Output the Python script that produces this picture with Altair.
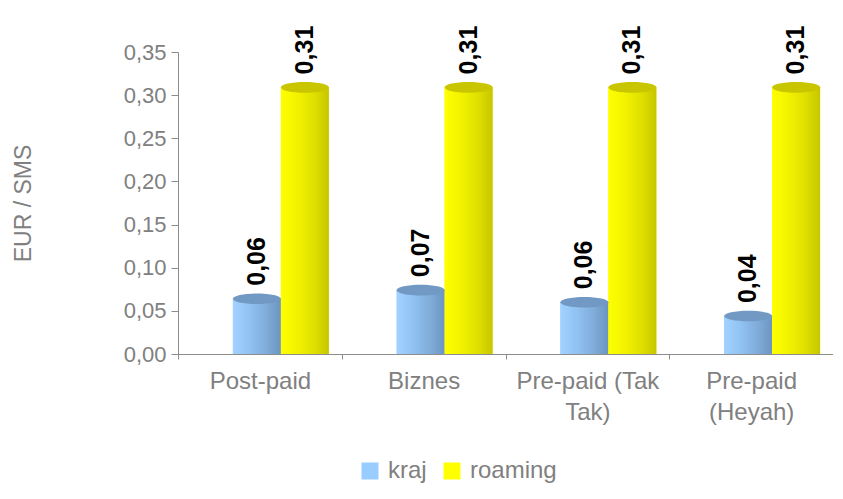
import altair as alt
import pandas as pd

categories = ["Post-paid", "Biznes", "Pre-paid (Tak Tak)", "Pre-paid (Heyah)"]
x_label_lines = [["Post-paid"], ["Biznes"], ["Pre-paid (Tak", "Tak)"], ["Pre-paid", "(Heyah)"]]
series = ["kraj", "roaming"]
kraj = [0.064, 0.074, 0.060, 0.044]
roaming = [0.309, 0.309, 0.309, 0.309]
y_ticks = [0.0, 0.05, 0.10, 0.15, 0.20, 0.25, 0.30, 0.35]

rows = []
for i, c in enumerate(categories):
    rows.append({"cat": c, "series": "kraj", "value": kraj[i]})
    rows.append({"cat": c, "series": "roaming", "value": roaming[i]})
df = pd.DataFrame(rows)

FONT = "Liberation Sans"
GRAY = "#808080"
LINE = "#8c8c8c"

# multi-line x labels
expr = "''"
for c, lines in reversed(list(zip(categories, x_label_lines))):
    arr = "[" + ",".join("'" + s + "'" for s in lines) + "]"
    expr = f"datum.value == '{c}' ? {arr} : ({expr})"

x_enc = alt.X(
    "cat:N", sort=categories,
    scale=alt.Scale(paddingInner=0, paddingOuter=0),
    axis=alt.Axis(title=None, labelAngle=0, tickBand="extent", tickSize=5,
                  labelPadding=10, labelFontSize=24, labelLineHeight=31,
                  labelExpr=expr, labelColor=GRAY, domainColor=LINE, tickColor=LINE,
                  labelFont=FONT),
)
xoff = alt.XOffset("series:N", sort=series,
                   scale=alt.Scale(paddingInner=0, paddingOuter=0.706, align=0.81))
y_enc = alt.Y(
    "value:Q",
    scale=alt.Scale(domain=[0, 0.35], nice=False),
    axis=alt.Axis(values=y_ticks, labelExpr="replace(format(datum.value, '.2f'), '.', ',')",
                  tickSize=7, labelPadding=5, labelFontSize=22, labelColor=GRAY,
                  labelFont=FONT, domainColor=LINE, tickColor=LINE, grid=False,
                  title="EUR / SMS", titleFontSize=23, titleColor=GRAY,
                  titleFontWeight="normal", titleFont=FONT, titleX=-155, titleY=151,
                  titleAngle=270, titleBaseline="middle", titleAlign="center"),
)

base = alt.Chart(df)

legend_bars = base.mark_bar().encode(
    x=x_enc, xOffset=xoff, y=y_enc,
    color=alt.Color("series:N", sort=series,
                    scale=alt.Scale(domain=series, range=["#99ccff", "#ffff00"]),
                    legend=alt.Legend(title=None, orient="none", legendX=180, legendY=407,
                                      direction="horizontal", symbolType="square",
                                      symbolSize=289, symbolStrokeWidth=0,
                                      labelFontSize=24, labelColor=GRAY, labelFont=FONT,
                                      labelOffset=6, columnPadding=13)),
)

blue_grad = alt.Gradient(gradient="linear", x1=0, x2=1, y1=0, y2=0, stops=[
    alt.GradientStop(color="#a2d2ff", offset=0),
    alt.GradientStop(color="#90c2f2", offset=0.35),
    alt.GradientStop(color="#80acd9", offset=0.7),
    alt.GradientStop(color="#6b95c1", offset=1),
])
yellow_grad = alt.Gradient(gradient="linear", x1=0, x2=1, y1=0, y2=0, stops=[
    alt.GradientStop(color="#ffff00", offset=0),
    alt.GradientStop(color="#f2f200", offset=0.35),
    alt.GradientStop(color="#dfdf00", offset=0.7),
    alt.GradientStop(color="#c6c600", offset=1),
])

grad_kraj = base.mark_bar(color=blue_grad).encode(x=x_enc, xOffset=xoff, y=y_enc).transform_filter(
    alt.datum.series == "kraj")
grad_roam = base.mark_bar(color=yellow_grad).encode(x=x_enc, xOffset=xoff, y=y_enc).transform_filter(
    alt.datum.series == "roaming")

ellipse = "M-1,0A1,0.22,0,1,1,1,0A1,0.22,0,1,1,-1,0Z"
cap_kraj = base.mark_point(shape=ellipse, size=2304, filled=True, fill="#7199c4",
                           strokeWidth=0, opacity=1).encode(
    x=x_enc, xOffset=xoff, y=y_enc).transform_filter(alt.datum.series == "kraj")
cap_roam = base.mark_point(shape=ellipse, size=2304, filled=True, fill="#c9c600",
                           strokeWidth=0, opacity=1).encode(
    x=x_enc, xOffset=xoff, y=y_enc).transform_filter(alt.datum.series == "roaming")

labels = base.mark_text(angle=270, align="left", baseline="middle", dx=13,
                        fontSize=25, fontWeight="bold", font=FONT, color="black").encode(
    x=x_enc, xOffset=xoff, y=y_enc, text="lbl:N"
).transform_calculate(lbl="replace(format(datum.value, '.2f'), '.', ',')")

chart = alt.layer(legend_bars, grad_kraj, grad_roam, cap_kraj, cap_roam, labels).properties(
    width=655, height=302,
    autosize=alt.AutoSizeParams(type="none"),
    padding={"left": 170, "top": 44, "right": 0, "bottom": 132},
).configure_view(stroke=None)

chart.save("out.html", embed_options={"renderer": "svg", "actions": False})
